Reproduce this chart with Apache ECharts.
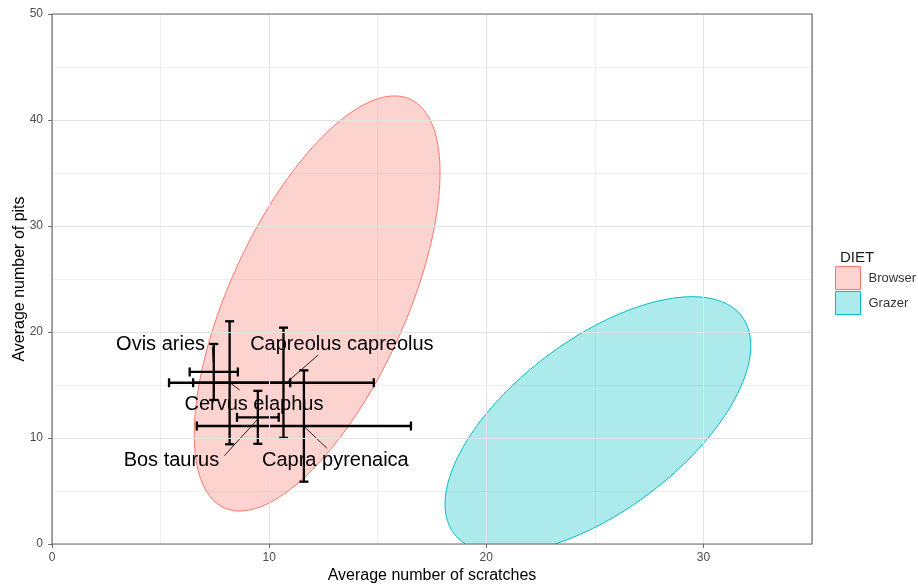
<!DOCTYPE html>
<html>
<head>
<meta charset="utf-8">
<script src="https://cdn.jsdelivr.net/npm/echarts@6/dist/echarts.min.js"></script>
<style>
  html, body { margin: 0; padding: 0; background: #fff; }
  #chart { width: 918px; height: 587px; }
</style>
</head>
<body>
<div id="chart"></div>
<script>
// Species means and spread (scratches on x, pits on y)
const species = ['Ovis aries', 'Cervus elaphus', 'Capreolus capreolus', 'Bos taurus', 'Capra pyrenaica'];
const meanScratches = [7.45, 8.18, 10.66, 9.48, 11.60];
const meanPits = [16.23, 15.21, 15.21, 11.95, 11.13];
const sdScratches = [1.11, 2.79, 4.16, 0.96, 4.93];
const sdPits = [2.64, 5.80, 5.20, 2.50, 5.25];

// Repelled label anchors and their leader segments
const labelX = [5.0, 9.3, 13.35, 5.5, 13.05];
const labelY = [18.8, 13.2, 18.8, 7.85, 7.85];
const segFromX = [7.38, 8.21, 12.26, 7.94, 11.62];
const segFromY = [18.58, 15.19, 17.83, 8.33, 11.07];
const segToX = [7.43, 8.64, 10.83, 9.44, 12.66];
const segToY = [17.08, 14.53, 15.28, 11.70, 9.03];

// Diet group confidence ellipses: centre, half extents, correlation
const dietGroups = ['Browser', 'Grazer'];
const dietColors = ['#F8766D', '#00BFC4'];
const dietFills = ['rgba(248,118,109,0.32)', 'rgba(0,191,196,0.32)'];
const ellipseCenterX = [12.21, 25.14];
const ellipseCenterY = [22.69, 11.23];
const ellipseHalfWidth = [5.66, 7.04];
const ellipseHalfHeight = [19.58, 12.10];
const ellipseCorr = [0.63, 0.617];

// Axis ticks
const xTicks = [0, 10, 20, 30];
const yTicks = [0, 10, 20, 30, 40, 50];

const GRID = { left: 52, right: 106, top: 14, bottom: 43 };
const FONT = '"Liberation Sans", Arial, sans-serif';

const chart = echarts.init(document.getElementById('chart'));

function ellipseSeries(g) {
  return {
    type: 'custom',
    name: dietGroups[g],
    z: 1,
    itemStyle: { color: dietFills[g], borderColor: dietColors[g], borderWidth: 1 },
    data: [[ellipseCenterX[g], ellipseCenterY[g], ellipseHalfWidth[g], ellipseHalfHeight[g], ellipseCorr[g]]],
    renderItem: function (params, api) {
      const cx = api.value(0), cy = api.value(1), rx = api.value(2), ry = api.value(3);
      const phi = Math.acos(api.value(4));
      const pts = [];
      const n = 180;
      for (let i = 0; i < n; i++) {
        const t = (i / n) * Math.PI * 2;
        pts.push(api.coord([cx + rx * Math.cos(t), cy + ry * Math.cos(t - phi)]));
      }
      const cs = params.coordSys;
      return {
        type: 'polygon',
        shape: { points: pts },
        clipPath: { type: 'rect', shape: { x: cs.x, y: cs.y, width: cs.width, height: cs.height } },
        style: { fill: dietFills[g], stroke: dietColors[g], lineWidth: 1 }
      };
    }
  };
}

const errorData = species.map((s, i) => [meanScratches[i], meanPits[i], sdScratches[i], sdPits[i]]);
const segmentData = species.map((s, i) => [segFromX[i], segFromY[i], segToX[i], segToY[i]]);
const labelData = species.map((s, i) => [labelX[i], labelY[i], s]);

const option = {
  animation: false,
  backgroundColor: '#ffffff',
  grid: {
    left: GRID.left, right: GRID.right, top: GRID.top, bottom: GRID.bottom,
    show: false, containLabel: false, outerBoundsMode: 'none'
  },
  title: {
    text: 'DIET', left: 835, top: 245,
    textStyle: { fontFamily: FONT, fontSize: 15, fontWeight: 'normal', color: '#1a1a1a' }
  },
  legend: {
    orient: 'vertical', left: 835, top: 266, padding: 0,
    itemWidth: 25, itemHeight: 23, itemGap: 1,
    textStyle: { fontFamily: FONT, fontSize: 13, color: '#333', padding: [0, 0, 0, 3] },
    data: dietGroups.map((g, i) => ({
      name: g, icon: 'rect',
      itemStyle: { color: dietFills[i], borderColor: dietColors[i], borderWidth: 1 }
    }))
  },
  xAxis: [
    {
      type: 'value', min: 0, max: 35, interval: 10, z: 5,
      name: 'Average number of scratches', nameLocation: 'middle', nameGap: 24,
      nameMoveOverlap: false,
      nameTextStyle: { fontFamily: FONT, fontSize: 16, color: '#000' },
      axisLine: { show: false },
      axisTick: { show: true, length: 4, lineStyle: { color: '#6b6b6b', width: 1 } },
      axisLabel: {
        fontFamily: FONT, fontSize: 12, color: '#4d4d4d', margin: 8, showMaxLabel: false,
        formatter: v => (xTicks.indexOf(v) >= 0 ? String(v) : '')
      },
      splitLine: { show: true, lineStyle: { color: '#e3e3e3', width: 1 } }
    },
    {
      type: 'value', min: 0, max: 35, interval: 5, show: true, z: 0,
      axisLine: { show: false }, axisTick: { show: false }, axisLabel: { show: false },
      splitLine: { show: true, lineStyle: { color: '#f0f0f0', width: 1 } }
    }
  ],
  yAxis: [
    {
      type: 'value', min: 0, max: 50, interval: 10, z: 5,
      name: 'Average number of pits', nameLocation: 'middle', nameGap: 24,
      nameMoveOverlap: false,
      nameTextStyle: { fontFamily: FONT, fontSize: 16, color: '#000' },
      axisLine: { show: false },
      axisTick: { show: true, length: 4, lineStyle: { color: '#6b6b6b', width: 1 } },
      axisLabel: {
        fontFamily: FONT, fontSize: 12, color: '#4d4d4d', margin: 9,
        formatter: v => (yTicks.indexOf(v) >= 0 ? String(v) : '')
      },
      splitLine: { show: true, lineStyle: { color: '#e3e3e3', width: 1 } }
    },
    {
      type: 'value', min: 0, max: 50, interval: 5, show: true, z: 0,
      axisLine: { show: false }, axisTick: { show: false }, axisLabel: { show: false },
      splitLine: { show: true, lineStyle: { color: '#f0f0f0', width: 1 } }
    }
  ],
  graphic: [{
    type: 'rect', z: 100, silent: true,
    shape: { x: GRID.left, y: GRID.top, width: 918 - GRID.left - GRID.right, height: 587 - GRID.top - GRID.bottom },
    style: { fill: 'none', stroke: '#6b6b6b', lineWidth: 1.2 }
  }],
  series: [
    ellipseSeries(0),
    ellipseSeries(1),
    {
      type: 'custom', name: 'segments', z: 3, silent: true,
      data: segmentData,
      renderItem: function (params, api) {
        const a = api.coord([api.value(0), api.value(1)]);
        const b = api.coord([api.value(2), api.value(3)]);
        return { type: 'line', shape: { x1: a[0], y1: a[1], x2: b[0], y2: b[1] }, style: { stroke: '#222', lineWidth: 1 } };
      }
    },
    {
      type: 'custom', name: 'errorbars', z: 4, silent: true,
      data: errorData,
      renderItem: function (params, api) {
        const x = api.value(0), y = api.value(1), ex = api.value(2), ey = api.value(3);
        const l = api.coord([x - ex, y]), r = api.coord([x + ex, y]);
        const t = api.coord([x, y + ey]), b = api.coord([x, y - ey]);
        const cap = 4.5;
        const st = { stroke: '#000', lineWidth: 2.3 };
        const ln = (x1, y1, x2, y2) => ({ type: 'line', shape: { x1, y1, x2, y2 }, style: st });
        return {
          type: 'group',
          children: [
            ln(l[0], l[1], r[0], r[1]),
            ln(l[0], l[1] - cap, l[0], l[1] + cap),
            ln(r[0], r[1] - cap, r[0], r[1] + cap),
            ln(t[0], t[1], b[0], b[1]),
            ln(t[0] - cap, t[1], t[0] + cap, t[1]),
            ln(b[0] - cap, b[1], b[0] + cap, b[1])
          ]
        };
      }
    },
    {
      type: 'custom', name: 'labels', z: 5, silent: true,
      data: labelData,
      renderItem: function (params, api) {
        const p = api.coord([api.value(0), api.value(1)]);
        return {
          type: 'text', x: p[0], y: p[1],
          style: {
            text: labelData[params.dataIndex][2], fontFamily: FONT, fontSize: 20,
            fill: '#000', align: 'center', verticalAlign: 'middle'
          }
        };
      }
    }
  ]
};

chart.setOption(option);
</script>
</body>
</html>
